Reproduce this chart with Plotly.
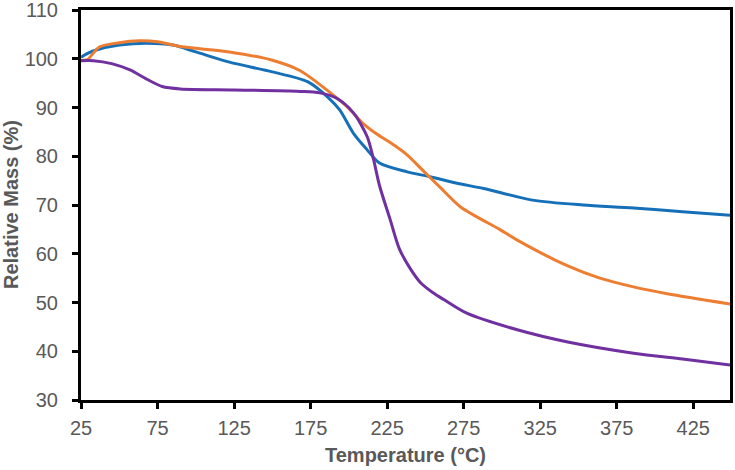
import plotly.graph_objects as go

blue_t = [25, 30, 35, 50, 68, 85, 100, 122, 150, 173, 186, 194, 203, 212, 220, 238, 253, 270, 288, 320, 353, 386, 418, 449]
blue_m = [100.3, 101.2, 101.8, 102.8, 103.2, 102.8, 101.4, 99.3, 97.3, 95.3, 92.2, 89.5, 84.7, 81.3, 78.6, 76.8, 75.8, 74.5, 73.4, 71.0, 70.0, 69.4, 68.6, 67.9]

orange_t = [25, 29, 37, 50, 63, 75, 90, 122, 150, 168, 188, 199, 209, 218, 227, 238, 248, 260, 273, 299, 310, 343, 364, 386, 408, 449]
orange_m = [99.7, 99.8, 102.4, 103.3, 103.7, 103.5, 102.5, 101.4, 99.7, 97.6, 93.0, 90.1, 86.8, 84.6, 82.8, 80.3, 77.2, 73.5, 69.6, 64.9, 62.8, 57.5, 55.0, 53.2, 51.8, 49.7]

purple_t = [25, 33, 45, 57, 68, 78, 90, 125, 168, 181, 192, 203, 212, 216, 220, 227, 233, 240, 247, 255, 262, 277, 310, 343, 386, 418, 449]
purple_m = [99.6, 99.6, 99.0, 97.7, 95.8, 94.3, 93.8, 93.6, 93.3, 93.0, 91.9, 88.9, 84.0, 79.5, 74.0, 67.0, 61.0, 57.0, 54.0, 52.0, 50.6, 47.8, 44.4, 41.9, 39.6, 38.4, 37.2]

x_ticks = [25, 75, 125, 175, 225, 275, 325, 375, 425]
y_ticks = [30, 40, 50, 60, 70, 80, 90, 100, 110]

x_title = "Temperature (°C)"
y_title = "Relative Mass (%)"

fig = go.Figure()
for t, m, c in [(blue_t, blue_m, "#1670b8"), (orange_t, orange_m, "#ed7d31"), (purple_t, purple_m, "#7030a0")]:
    fig.add_trace(go.Scatter(x=t, y=m, mode="lines",
                             line=dict(color=c, width=3, shape="spline", smoothing=0.8),
                             showlegend=False, hoverinfo="skip"))

axis_font = dict(family="Liberation Sans, Arial, sans-serif", size=20, color="#595959")
title_font = dict(family="Liberation Sans, Arial, sans-serif", size=20, color="#595959")

fig.update_layout(
    width=735, height=470,
    margin=dict(l=81, r=5, t=10, b=70),
    paper_bgcolor="white", plot_bgcolor="white",
    xaxis=dict(range=[25, 449], tickvals=x_ticks, ticktext=[str(v) for v in x_ticks],
               showgrid=False, zeroline=False, showline=True, mirror=True,
               linecolor="black", linewidth=3, ticks="outside", ticklen=6,
               tickwidth=3, tickcolor="black", tickfont=axis_font,
               ticklabelstandoff=2, automargin=False, ticklabeloverflow="allow"),
    yaxis=dict(range=[30, 110], tickvals=y_ticks, ticktext=[str(v) for v in y_ticks],
               showgrid=False, zeroline=False, showline=True, mirror=True,
               linecolor="black", linewidth=3, ticks="outside", ticklen=6,
               tickwidth=3, tickcolor="black", tickfont=axis_font,
               ticklabelstandoff=10, automargin=False, ticklabeloverflow="allow"),
    annotations=[
        dict(text="<b>" + x_title + "</b>", xref="paper", yref="paper",
             x=0.5, y=-55 / 390, xanchor="center", yanchor="middle",
             showarrow=False, font=title_font),
        dict(text="<b>" + y_title + "</b>", xref="paper", yref="paper",
             x=-70 / 649, y=0.5, xanchor="center", yanchor="middle",
             textangle=-90, showarrow=False, font=title_font),
    ],
)

fig.write_html("out.html", config={"displayModeBar": False},
               post_script="document.body.style.margin='0px';")
